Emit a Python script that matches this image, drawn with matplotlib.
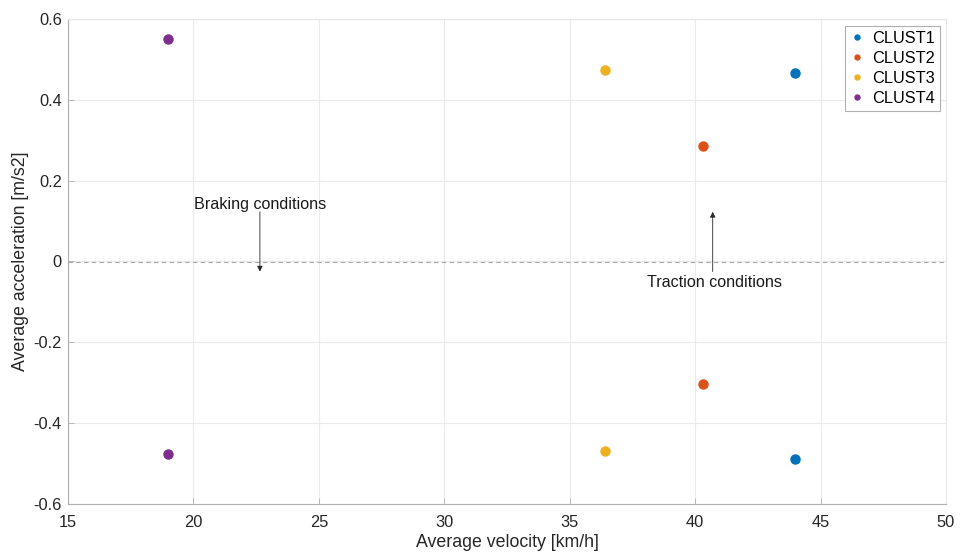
import numpy as np
import matplotlib.pyplot as plt

plt.rcParams['font.family'] = ['Liberation Sans', 'DejaVu Sans']

# data
clusters = ['CLUST1', 'CLUST2', 'CLUST3', 'CLUST4']
velocity = [44.0, 40.3, 36.4, 19.0]
acc_pos = [0.466, 0.285, 0.473, 0.550]
acc_neg = [-0.488, -0.303, -0.469, -0.476]
colors = ['#0072BD', '#D95319', '#EDB120', '#7E2F8E']

fig = plt.figure(figsize=(9.61, 5.53), dpi=100)
ax = fig.add_axes([68/961, 1 - 504/553, (946-68)/961, (504-19)/553])

for name, v, ap, an, c in zip(clusters, velocity, acc_pos, acc_neg, colors):
    ax.plot([v, v], [ap, an], 'o', color=c, ms=6.5, ls='none', label=name)

ax.axhline(0, color='#a8a8a8', ls='--', lw=0.8, dashes=(4, 3))

ax.annotate('', xy=(22.65, -0.025), xytext=(22.65, 0.123),
            arrowprops=dict(arrowstyle='-|>', color='#262626', lw=0.6,
                            mutation_scale=8, shrinkA=0, shrinkB=0))
ax.text(22.65, 0.142, 'Braking conditions', ha='center', va='center',
        fontsize=11.6, color='#1a1a1a')
ax.annotate('', xy=(40.7, 0.123), xytext=(40.7, -0.025),
            arrowprops=dict(arrowstyle='-|>', color='#262626', lw=0.6,
                            mutation_scale=8, shrinkA=0, shrinkB=0))
ax.text(40.78, -0.052, 'Traction conditions', ha='center', va='center',
        fontsize=11.6, color='#1a1a1a')

ax.set_xlim(15, 50)
ax.set_ylim(-0.6, 0.6)
ax.set_xticks(np.arange(15, 51, 5))
ax.set_yticks(np.arange(-0.6, 0.61, 0.2))
ax.set_yticklabels(['-0.6', '-0.4', '-0.2', '0', '0.2', '0.4', '0.6'])
ax.set_xlabel('Average velocity [km/h]', fontsize=12.8, color='#262626', labelpad=3.5)
ax.set_ylabel('Average acceleration [m/s2]', fontsize=12.8, color='#262626', labelpad=3)

ax.grid(True, color='#ebebeb', lw=0.8)
ax.set_axisbelow(True)
ax.tick_params(axis='both', labelsize=11.8, colors='#262626', direction='in',
               length=4, width=0.6)
ax.tick_params(axis='x', pad=7.6)
ax.tick_params(axis='y', pad=4.5)
ax.tick_params(axis='both', color='#b0b0b0')
for s in ['left', 'bottom']:
    ax.spines[s].set_color('#b0b0b0')
    ax.spines[s].set_linewidth(0.8)
for s in ['top', 'right']:
    ax.spines[s].set_color('#e6e6e6')
    ax.spines[s].set_linewidth(0.8)

leg = ax.legend(loc='upper right', fontsize=11.8, markerscale=0.55,
                handletextpad=0.45, handlelength=0.9, borderpad=0.3,
                labelspacing=0.3, fancybox=False, framealpha=1,
                borderaxespad=0, bbox_to_anchor=(1 - 6/878, 1 - 7/485))
leg.get_frame().set_edgecolor('#b0b0b0')
leg.get_frame().set_linewidth(0.8)

plt.savefig('out.png', dpi=100, facecolor='w')
